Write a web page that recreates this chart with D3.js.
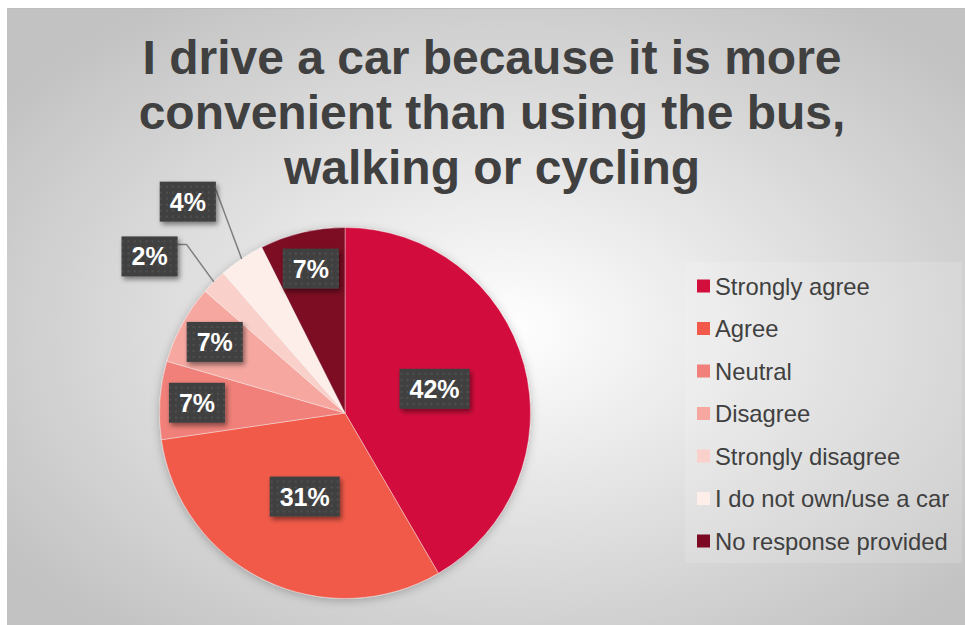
<!DOCTYPE html>
<html>
<head>
<meta charset="utf-8">
<script src="https://cdn.jsdelivr.net/npm/d3@7"></script>
<style>
  html, body { margin: 0; padding: 0; background: #fff; }
  svg { display: block; }
</style>
</head>
<body>
<div id="chart"></div>
<script>
// survey answers
const categories = ['Strongly agree', 'Agree', 'Neutral', 'Disagree',
  'Strongly disagree', 'I do not own/use a car', 'No response provided'];
const values = [41.6, 31.1, 6.8, 6.9, 2.2, 4.0, 7.4];
const titleLines = ['I drive a car because it is more',
  'convenient than using the bus,', 'walking or cycling'];

const palette = ['#d20f3c', '#f15a4a', '#f08079', '#f6a8a0', '#fad0ca', '#fdeeea', '#7b0a22'];

var width = 965;
var height = 625;
var cx = 345, cy = 413, R = 185.5;

var color = d3.scaleOrdinal().domain(categories).range(palette);

var svg = d3.select('#chart').append('svg')
  .attr('width', width)
  .attr('height', height);

var defs = svg.append('defs');

// chart area background: white in the middle, grey at the corners
var grad = defs.append('radialGradient').attr('id', 'bg')
  .attr('cx', '52%').attr('cy', '52%').attr('r', '64%');
grad.append('stop').attr('offset', '0%').attr('stop-color', '#ffffff');
grad.append('stop').attr('offset', '100%').attr('stop-color', '#c2c2c2');

var pieShadow = defs.append('filter').attr('id', 'pieShadow')
  .attr('x', '-20%').attr('y', '-20%').attr('width', '140%').attr('height', '140%');
pieShadow.append('feDropShadow').attr('dx', 0).attr('dy', 2)
  .attr('stdDeviation', 5).attr('flood-color', '#000').attr('flood-opacity', 0.25);

var boxShadow = defs.append('filter').attr('id', 'boxShadow')
  .attr('x', '-30%').attr('y', '-30%').attr('width', '160%').attr('height', '160%');
boxShadow.append('feDropShadow').attr('dx', 2).attr('dy', 3)
  .attr('stdDeviation', 2.5).attr('flood-color', '#000').attr('flood-opacity', 0.45);

// dotted fill of the data label boxes
var dots = defs.append('pattern').attr('id', 'dots')
  .attr('patternUnits', 'userSpaceOnUse').attr('width', 6).attr('height', 6);
dots.append('rect').attr('width', 6).attr('height', 6).attr('fill', '#404040');
dots.append('circle').attr('cx', 3).attr('cy', 3).attr('r', 0.9).attr('fill', '#575757');

svg.append('rect')
  .attr('x', 7).attr('y', 8)
  .attr('width', width - 7).attr('height', height - 8)
  .attr('fill', 'url(#bg)');
svg.append('line')
  .attr('x1', 7).attr('x2', width).attr('y1', 8.5).attr('y2', 8.5)
  .attr('stroke', '#bdbdbd').attr('stroke-width', 1);

// title
svg.append('g').selectAll('text').data(titleLines).enter().append('text')
  .attr('x', 492)
  .attr('y', function(d, i) { return 74 + i * 55; })
  .attr('text-anchor', 'middle')
  .attr('font-family', 'Liberation Sans, Arial, sans-serif')
  .attr('font-weight', 'bold')
  .attr('font-size', 48)
  .attr('fill', '#404040')
  .text(function(d) { return d; });

// pie
var pie = d3.pie().sort(null).value(function(d) { return d.value; });
var arcs = pie(categories.map(function(c, i) { return { name: c, value: values[i] }; }));
var arc = d3.arc().innerRadius(0).outerRadius(R);

var g = svg.append('g').attr('transform', 'translate(' + cx + ',' + cy + ')');

g.append('g').attr('filter', 'url(#pieShadow)')
  .selectAll('path').data(arcs).enter().append('path')
  .attr('d', arc)
  .attr('fill', function(d) { return color(d.data.name); })
  .attr('stroke', '#ffffff')
  .attr('stroke-opacity', 0.5)
  .attr('stroke-width', 0.75);

// data labels: big slices near the middle, mid slices near the rim,
// tiny slices outside with a leader line
var nudge = { 'Strongly disagree': -6.3, 'I do not own/use a car': -2.8 };
var boxH = 40, padX = 10, fontSize = 25;

function polar(r, a) { return [r * Math.sin(a), -r * Math.cos(a)]; }

var labels = g.append('g');
arcs.forEach(function(d) {
  var mid = (d.startAngle + d.endAngle) / 2;
  var share = d.value / d3.sum(values);
  var outside = share < 0.05;
  var pos;
  if (share > 0.2) pos = polar(R * 0.5, mid);
  else if (!outside) pos = polar(R * 0.8, mid);
  else pos = polar(R * (share < 0.03 ? 1.35 : 1.42), mid + (nudge[d.data.name] || 0) * Math.PI / 180);

  var txt = Math.round(d.value) + '%';
  var lab = labels.append('g').attr('transform', 'translate(' + pos[0] + ',' + pos[1] + ')');
  var t = lab.append('text')
    .attr('text-anchor', 'middle')
    .attr('dy', '0.36em')
    .attr('font-family', 'Liberation Sans, Arial, sans-serif')
    .attr('font-weight', 'bold')
    .attr('font-size', fontSize)
    .attr('fill', '#ffffff')
    .text(txt);
  var w = t.node().getComputedTextLength() + padX * 2;
  lab.insert('rect', 'text')
    .attr('x', -w / 2).attr('y', -boxH / 2)
    .attr('width', w).attr('height', boxH)
    .attr('fill', 'url(#dots)')
    .attr('filter', 'url(#boxShadow)');

  if (outside) {
    var p0 = polar(R, mid);
    var bx = pos[0] + w / 2, by = pos[1] - boxH / 2 + 8;
    var dx = p0[0] - bx, dy = p0[1] - by;
    var elbow = Math.max(0, dx - dy * 0.73);
    labels.insert('polyline', ':first-child')
      .attr('points', [[p0[0], p0[1]], [bx + elbow, by], [bx, by]].map(function(p) { return p.join(','); }).join(' '))
      .attr('fill', 'none')
      .attr('stroke', '#7f7f7f')
      .attr('stroke-width', 1.5);
  }
});

// legend
var legend = svg.append('g');
legend.append('rect')
  .attr('x', 685).attr('y', 262).attr('width', 277).attr('height', 301)
  .attr('fill', '#ffffff').attr('fill-opacity', 0.14);

var legendY = d3.scalePoint().domain(categories).range([286, 541]);
var item = legend.selectAll('g.item').data(categories).enter().append('g')
  .attr('class', 'item')
  .attr('transform', function(d) { return 'translate(697,' + legendY(d) + ')'; });
item.append('rect')
  .attr('x', 0).attr('y', -6.5).attr('width', 13).attr('height', 13)
  .attr('fill', function(d) { return color(d); });
item.append('text')
  .attr('x', 18).attr('dy', '0.36em')
  .attr('font-family', 'Liberation Sans, Arial, sans-serif')
  .attr('font-size', 23.8)
  .attr('fill', '#404040')
  .text(function(d) { return d; });
</script>
</body>
</html>
